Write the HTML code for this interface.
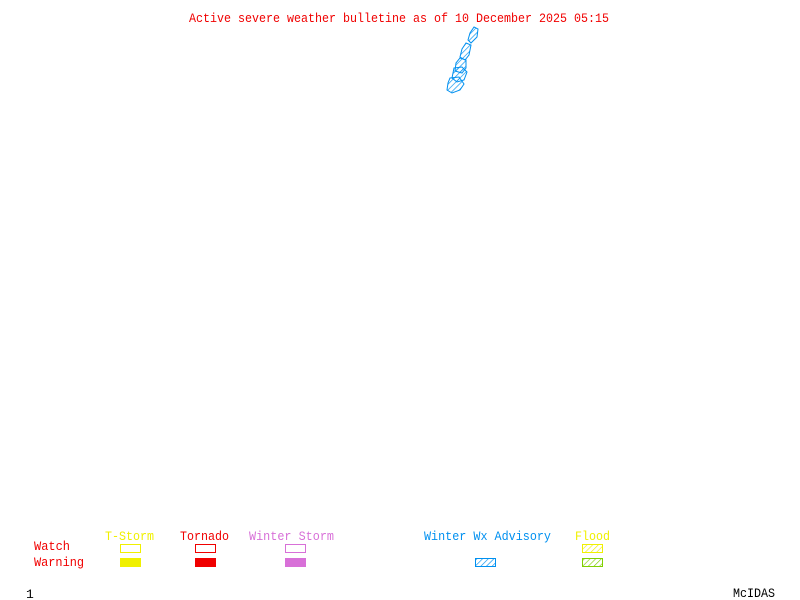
<!DOCTYPE html>
<html><head><style>
html,body{margin:0;padding:0;background:#fff;}
svg{display:block;}
text{font-family:"Liberation Mono",monospace;font-size:13px;}
</style></head><body>
<svg width="800" height="600" xmlns="http://www.w3.org/2000/svg">
<defs>
<pattern id="hb" width="4" height="4" patternUnits="userSpaceOnUse" patternTransform="rotate(45)">
<line x1="0" y1="0" x2="0" y2="4" stroke="#0090f0" stroke-width="1.3"/></pattern>
<pattern id="hy" width="4" height="4" patternUnits="userSpaceOnUse" patternTransform="rotate(45)">
<line x1="0" y1="0" x2="0" y2="4" stroke="#f0f000" stroke-width="1.3"/></pattern>
<pattern id="hg" width="4" height="4" patternUnits="userSpaceOnUse" patternTransform="rotate(45)">
<line x1="0" y1="0" x2="0" y2="4" stroke="#80d000" stroke-width="1.3"/></pattern>
</defs>
<text x="189" y="22" fill="#f00000" textLength="420" lengthAdjust="spacingAndGlyphs">Active severe weather bulletine as of 10 December 2025 05:15</text>
<g fill="url(#hb)" stroke="#0090f0" stroke-width="1">
<polygon points="474,27 478,29 477,37 471,43 468,40 470,33"/>
<polygon points="466,43 471,45 469,55 465,60 460,57 462,49"/>
<polygon points="460,58 466,60 466,68 462,73 455,71 456,63"/>
<polygon points="454,68 462,67 467,72 464,80 457,82 452,78"/>
<polygon points="450,78 459,77 464,84 460,90 452,93 447,90 448,83"/>
</g>
<g>
<text x="105" y="540" fill="#f0f000" textLength="49" lengthAdjust="spacingAndGlyphs">T-Storm</text>
<text x="180" y="540" fill="#f00000" textLength="49" lengthAdjust="spacingAndGlyphs">Tornado</text>
<text x="249" y="540" fill="#d870d8" textLength="85" lengthAdjust="spacingAndGlyphs">Winter Storm</text>
<text x="424" y="540" fill="#0090f0" textLength="127" lengthAdjust="spacingAndGlyphs">Winter Wx Advisory</text>
<text x="575" y="540" fill="#f0f000" textLength="35" lengthAdjust="spacingAndGlyphs">Flood</text>
<text x="34" y="550" fill="#f00000" textLength="36" lengthAdjust="spacingAndGlyphs">Watch</text>
<text x="34" y="566" fill="#f00000" textLength="50" lengthAdjust="spacingAndGlyphs">Warning</text>
</g>
<rect x="120.5" y="544.5" width="20" height="8" fill="none" stroke="#f0f000"/>
<rect x="120" y="558" width="21" height="9" fill="#f0f000"/>
<rect x="195.5" y="544.5" width="20" height="8" fill="none" stroke="#f00000"/>
<rect x="195" y="558" width="21" height="9" fill="#f00000"/>
<rect x="285.5" y="544.5" width="20" height="8" fill="none" stroke="#d870d8"/>
<rect x="285" y="558" width="21" height="9" fill="#d870d8"/>
<rect x="475.5" y="558.5" width="20" height="8" fill="url(#hb)" stroke="#0090f0"/>
<rect x="582.5" y="544.5" width="20" height="8" fill="url(#hy)" stroke="#f0f000"/>
<rect x="582.5" y="558.5" width="20" height="8" fill="url(#hg)" stroke="#80d000"/>
<text x="26" y="598" fill="#000">1</text>
<text x="733" y="597" fill="#000" textLength="42" lengthAdjust="spacingAndGlyphs">McIDAS</text>
</svg>
</body></html>
